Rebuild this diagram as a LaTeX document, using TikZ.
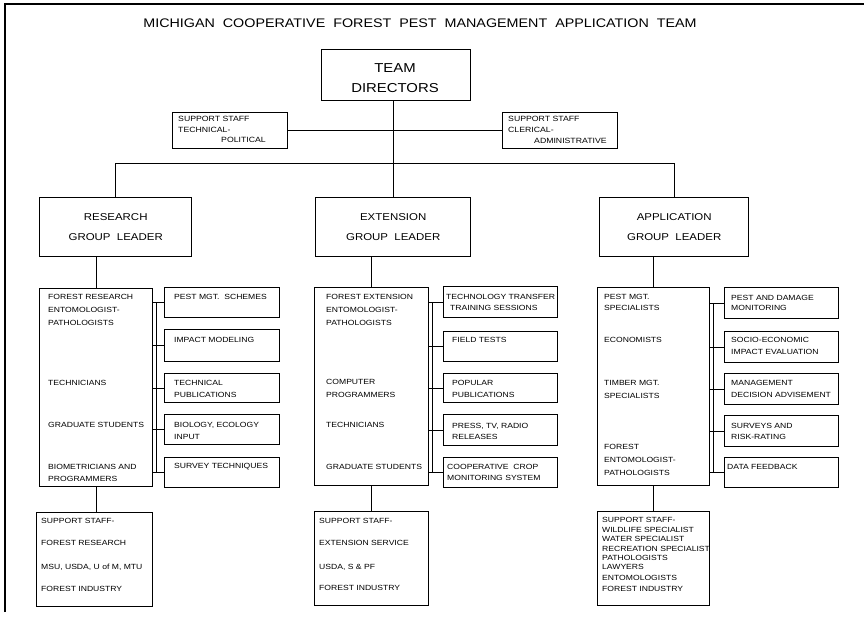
\documentclass[tikz,border=0pt]{standalone}
\usepackage{fontspec}
\setmainfont{Liberation Sans}
\newfontfamily\lett[FakeStretch=1.15]{Liberation Sans}
\tikzset{
  box/.style={draw, line width=1.4bp, inner sep=0pt, anchor=north west},
  conn/.style={line width=0.7bp},
  lbl/.style={anchor=west, inner sep=0pt, font=\lett\fontsize{7.5}{9}\selectfont},
  slbl/.style={anchor=west, inner sep=0pt, font=\lett\fontsize{7.6}{8}\selectfont},
  glead/.style={box, align=center, font=\lett\fontsize{10}{20}\selectfont},
}
\begin{document}
\begin{tikzpicture}[x=1bp,y=-1bp]
\useasboundingbox (0,0) rectangle (864,624);
% frame
\draw[line width=1.1bp] (5,612) -- (5,4) -- (864,4);
% title
\node[font=\lett\fontsize{12.5}{15}\selectfont] (title) at (420,23) {MICHIGAN\ \ COOPERATIVE\ \ FOREST\ \ PEST\ \ MANAGEMENT\ \ APPLICATION\ \ TEAM};
% directors
\node[box, minimum width=149bp, minimum height=51bp] (dir) at (321,49) {};
\node[align=center, inner sep=0pt, font=\lett\fontsize{13}{20}\selectfont] (dirt) at (395,78) {TEAM\\DIRECTORS};
% support top
\node[box, minimum width=115bp, minimum height=36bp] (supL) at (172,112) {};
\node[slbl] (supL1) at (178,119) {SUPPORT STAFF};
\node[slbl] (supL2) at (178,130) {TECHNICAL-};
\node[slbl] (supL3) at (221,140) {POLITICAL};
\node[box, minimum width=115bp, minimum height=36bp] (supR) at (502,112) {};
\node[slbl] (supR1) at (508,119) {SUPPORT STAFF};
\node[slbl] (supR2) at (508,130) {CLERICAL-};
\node[slbl] (supR3) at (534,141) {ADMINISTRATIVE};
\draw[conn] (supL.east) -- (supR.west);
% group leaders
\node[glead, minimum width=152bp, minimum height=59bp] (glR) at (39,197) {RESEARCH\\GROUP\ \ LEADER};
\node[glead, minimum width=155bp, minimum height=59bp] (glE) at (315,197) {EXTENSION\\GROUP\ \ LEADER};
\node[glead, minimum width=149bp, minimum height=59bp] (glA) at (599,197) {APPLICATION\\GROUP\ \ LEADER};
\draw[conn] (glR.north) -- ++(0,-34) -| (glA.north);
\draw[conn] (dir.south -| glE.north) -- (glE.north);
% list boxes
\node[box, minimum width=113bp, minimum height=198bp] (lstR) at (39,288) {};
\node[box, minimum width=114bp, minimum height=198bp] (lstE) at (314,287) {};
\node[box, minimum width=112bp, minimum height=198bp] (lstA) at (597,287) {};
\draw[conn] (glR.south -| lstR.north) -- (lstR.north);
\draw[conn] (glE.south -| lstE.north) -- (lstE.north);
\draw[conn] (glA.south -| lstA.north) -- (lstA.north);
% research list text
\node[lbl] (tR1) at (48,297) {FOREST RESEARCH};
\node[lbl] (tR2) at (48,310) {ENTOMOLOGIST-};
\node[lbl] (tR3) at (48,323) {PATHOLOGISTS};
\node[lbl] (tR4) at (48,383) {TECHNICIANS};
\node[lbl] (tR5) at (48,425) {GRADUATE STUDENTS};
\node[lbl] (tR6) at (48,467) {BIOMETRICIANS AND};
\node[lbl] (tR7) at (48,479) {PROGRAMMERS};
% extension list text
\node[lbl] (tE1) at (326,297) {FOREST EXTENSION};
\node[lbl] (tE2) at (326,310) {ENTOMOLOGIST-};
\node[lbl] (tE3) at (326,323) {PATHOLOGISTS};
\node[lbl] (tE4) at (326,382) {COMPUTER};
\node[lbl] (tE5) at (326,395) {PROGRAMMERS};
\node[lbl] (tE6) at (326,425) {TECHNICIANS};
\node[lbl] (tE7) at (326,467) {GRADUATE STUDENTS};
% application list text
\node[lbl] (tA1) at (604,297) {PEST MGT.};
\node[lbl] (tA2) at (604,308) {SPECIALISTS};
\node[lbl] (tA3) at (604,340) {ECONOMISTS};
\node[lbl] (tA4) at (604,383) {TIMBER MGT.};
\node[lbl] (tA5) at (604,396) {SPECIALISTS};
\node[lbl] (tA6) at (604,447) {FOREST};
\node[lbl] (tA7) at (604,460) {ENTOMOLOGIST-};
\node[lbl] (tA8) at (604,473) {PATHOLOGISTS};
% research right boxes
\node[box, minimum width=115bp, minimum height=30bp] (r1) at (164,287) {};
\node[box, minimum width=115bp, minimum height=32bp] (r2) at (164,329) {};
\node[box, minimum width=115bp, minimum height=29bp] (r3) at (164,373) {};
\node[box, minimum width=115bp, minimum height=30bp] (r4) at (164,414) {};
\node[box, minimum width=115bp, minimum height=30bp] (r5) at (164,457) {};
\node[lbl] (r1a) at (174,297) {PEST MGT.\ \ SCHEMES};
\node[lbl] (r2a) at (174,340) {IMPACT MODELING};
\node[lbl] (r3a) at (174,383) {TECHNICAL};
\node[lbl] (r3b) at (174,395) {PUBLICATIONS};
\node[lbl] (r4a) at (174,425) {BIOLOGY, ECOLOGY};
\node[lbl] (r4b) at (174,437) {INPUT};
\node[lbl] (r5a) at (174,467) {SURVEY TECHNIQUES};
% extension right boxes
\node[box, minimum width=114bp, minimum height=31bp] (e1) at (443,286) {};
\node[box, minimum width=114bp, minimum height=30bp] (e2) at (443,331) {};
\node[box, minimum width=114bp, minimum height=29bp] (e3) at (443,373) {};
\node[box, minimum width=114bp, minimum height=31bp] (e4) at (443,414) {};
\node[box, minimum width=114bp, minimum height=30bp] (e5) at (443,457) {};
\node[lbl] (e1a) at (446,297) {TECHNOLOGY TRANSFER};
\node[lbl] (e1b) at (450,308) {TRAINING SESSIONS};
\node[lbl] (e2a) at (452,340) {FIELD TESTS};
\node[lbl] (e3a) at (452,383) {POPULAR};
\node[lbl] (e3b) at (452,395) {PUBLICATIONS};
\node[lbl] (e4a) at (452,426) {PRESS, TV, RADIO};
\node[lbl] (e4b) at (452,437) {RELEASES};
\node[lbl] (e5a) at (447,467) {COOPERATIVE\ \ CROP};
\node[lbl] (e5b) at (447,478) {MONITORING SYSTEM};
% application right boxes
\node[box, minimum width=114bp, minimum height=31bp] (a1) at (724,287) {};
\node[box, minimum width=114bp, minimum height=31bp] (a2) at (724,331) {};
\node[box, minimum width=114bp, minimum height=31bp] (a3) at (724,373) {};
\node[box, minimum width=114bp, minimum height=31bp] (a4) at (724,415) {};
\node[box, minimum width=114bp, minimum height=30bp] (a5) at (724,457) {};
\node[lbl] (a1a) at (731,298) {PEST AND DAMAGE};
\node[lbl] (a1b) at (731,308) {MONITORING};
\node[lbl] (a2a) at (731,340) {SOCIO-ECONOMIC};
\node[lbl] (a2b) at (731,352) {IMPACT EVALUATION};
\node[lbl] (a3a) at (731,383) {MANAGEMENT};
\node[lbl] (a3b) at (731,395) {DECISION ADVISEMENT};
\node[lbl] (a4a) at (731,426) {SURVEYS AND};
\node[lbl] (a4b) at (731,437) {RISK-RATING};
\node[lbl] (a5a) at (727,467) {DATA FEEDBACK};
% buses
\coordinate (bR) at ([xshift=3bp]lstR.east);
\coordinate (bE) at ([xshift=3bp]lstE.east);
\coordinate (bA) at ([xshift=3bp]lstA.east);
\draw[conn] (bR |- r1.west) -- (bR |- r5.west);
\draw[conn] (bE |- e1.west) -- (bE |- e5.west);
\draw[conn] (bA |- a1.west) -- (bA |- a5.west);
\foreach \n in {r1,r2,r3,r4,r5} \draw[conn] (lstR.east |- \n.west) -- (\n.west);
\foreach \n in {e1,e2,e3,e4,e5} \draw[conn] (lstE.east |- \n.west) -- (\n.west);
\foreach \n in {a1,a2,a3,a4,a5} \draw[conn] (lstA.east |- \n.west) -- (\n.west);
% support bottom boxes
\node[box, minimum width=116bp, minimum height=94bp] (sR) at (36,512) {};
\node[box, minimum width=114bp, minimum height=94bp] (sE) at (314,511) {};
\node[box, minimum width=112bp, minimum height=94bp] (sA) at (597,511) {};
\draw[conn] (lstR.south) -- (lstR.south |- sR.north);
\draw[conn] (lstE.south) -- (lstE.south |- sE.north);
\draw[conn] (lstA.south) -- (lstA.south |- sA.north);
\node[lbl] (sR1) at (41,521) {SUPPORT STAFF-};
\node[lbl] (sR2) at (41,543) {FOREST RESEARCH};
\node[lbl] (sR3) at (41,567) {MSU, USDA, U of M, MTU};
\node[lbl] (sR4) at (41,589) {FOREST INDUSTRY};
\node[lbl] (sE1) at (319,521) {SUPPORT STAFF-};
\node[lbl] (sE2) at (319,543) {EXTENSION SERVICE};
\node[lbl] (sE3) at (319,567) {USDA, S \& PF};
\node[lbl] (sE4) at (319,588) {FOREST INDUSTRY};
\node[lbl] (sA1) at (602,520) {SUPPORT STAFF-};
\node[lbl] (sA2) at (602,530) {WILDLIFE SPECIALIST};
\node[lbl] (sA3) at (602,539) {WATER SPECIALIST};
\node[lbl] (sA4) at (602,549) {RECREATION SPECIALIST};
\node[lbl] (sA5) at (602,558) {PATHOLOGISTS};
\node[lbl] (sA6) at (602,567) {LAWYERS};
\node[lbl] (sA7) at (602,578) {ENTOMOLOGISTS};
\node[lbl] (sA8) at (602,589) {FOREST INDUSTRY};
\end{tikzpicture}
\end{document}
